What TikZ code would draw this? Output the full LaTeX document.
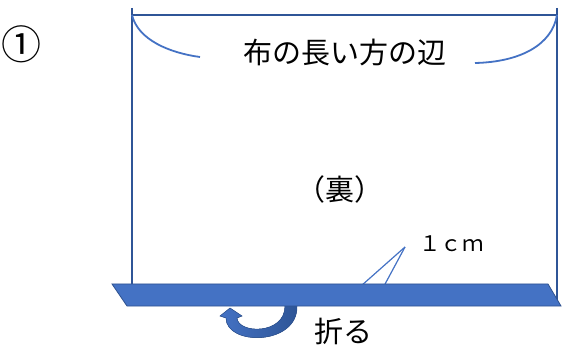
\documentclass[tikz,border=0pt]{standalone}
\usepackage{fontspec}
\newfontfamily\jpfont{Noto Sans CJK JP}
\usepackage{tikz}
\usetikzlibrary{arrows.meta,calc,positioning}
\definecolor{edgeblue}{HTML}{2F5597}
\definecolor{curveblue}{HTML}{4472C4}
\definecolor{bandblue}{HTML}{4472C4}
\definecolor{bandedge}{HTML}{2F528F}
\definecolor{turnblue}{HTML}{2E5596}

\begin{document}
\begin{tikzpicture}[x=1pt,y=-1pt,
  cloth/.style={edgeblue,line width=1.6pt},
  brace/.style={curveblue,line width=1.8pt},
  label/.style={font=\jpfont, text=black, inner sep=0pt}]
\useasboundingbox (0,0) rectangle (562,347);
% corners of the cloth
\coordinate (tl) at (132,8); \coordinate (tr) at (557,8);
\coordinate (bl) at (132,285); \coordinate (br) at (557,306);
\draw [cloth] (tl) -- (bl);
\draw [cloth] (tr) -- (br);
\draw [cloth] (132,15) coordinate (sl) -- (557,15) coordinate (sr);
% long side curves
\coordinate (el) at (200,57); \coordinate (er) at (475,63);
\draw [brace] (sl) .. controls (138,40) and (170,53) .. (el);
\draw [brace] (sr) .. controls (552,45) and (520,62) .. (er);
\node [label, font=\jpfont\fontsize{29}{29}\selectfont] (side) at (345,52) {布の長い方の辺};
\node [label, font=\jpfont\fontsize{29}{29}\selectfont] (back) at (340,189) {（裏）};
% 1cm callout
\node [label, font=\jpfont\fontsize{21.5}{21.5}\selectfont, anchor=west] (cm) at (419,244) {１ｃｍ};
\coordinate (cp) at (405,247);
\draw [curveblue,line width=1.2pt] (cp) -- (361,286);
\draw [curveblue,line width=1.2pt] (cp) -- (384,286);
% turn arrow
\coordinate (ts) at (297,306); \coordinate (tip) at (230,308);
\fill [left color=bandblue, right color=turnblue, draw=turnblue, line width=0.5pt]
  (ts) .. controls (298,346) and (226,346) .. (226,318)
  -- (220,316) -- (tip) -- (242,316) -- (237,318)
  .. controls (238,334) and (285,335) .. (285,306) -- cycle;
% folded band
\coordinate (b1) at (112,284); \coordinate (b2) at (548,284);
\coordinate (b3) at (561,306); \coordinate (b4) at (127,306);
\draw [fill=bandblue, draw=bandedge, line width=0.8pt] (b1) -- (b2) -- (b3) -- (b4) -- cycle;
\node [label, font=\jpfont\fontsize{29}{29}\selectfont] (fold) at (343,331) {折る};
\node [label, font=\jpfont\fontsize{40}{40}\selectfont] (num) at (21.5,44.5) {①};
\end{tikzpicture}
\end{document}
